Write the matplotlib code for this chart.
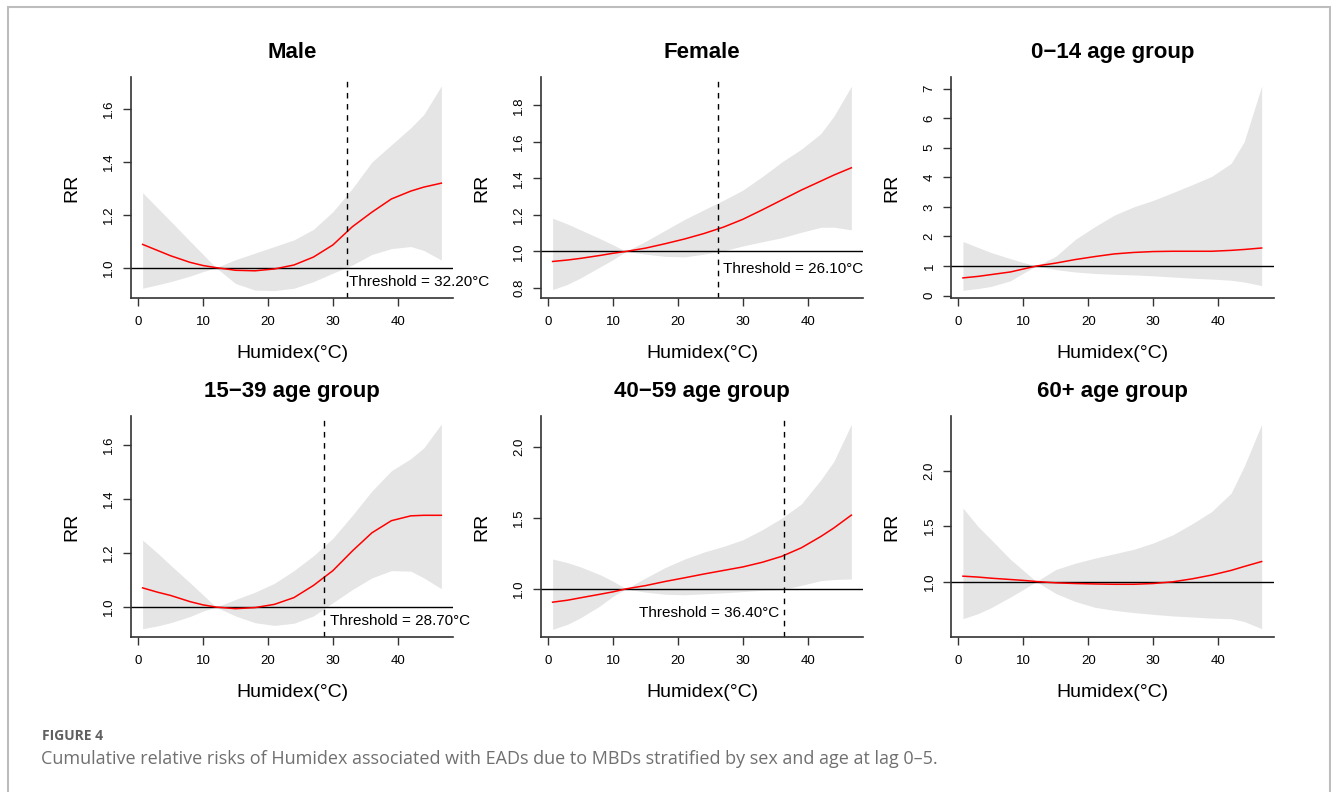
import matplotlib
matplotlib.use("Agg")
import matplotlib.pyplot as plt
from matplotlib.patches import Rectangle

plt.rcParams['font.family'] = ['Liberation Sans', 'DejaVu Sans']

###################################################################################################
# Data (Humidex grid shared by every panel)
###################################################################################################
humidex = [0.7, 3, 5, 8, 10, 12, 15, 18, 21, 24, 27, 30, 33, 36, 39, 42, 44, 46.7]

titles = ['Male', 'Female', '0\u221214 age group',
          '15\u221239 age group', '40\u221259 age group', '60+ age group']

male_rr = [1.088, 1.065, 1.045, 1.02, 1.008, 1.0, 0.99, 0.988, 0.995, 1.01, 1.04, 1.086,
           1.155, 1.21, 1.26, 1.29, 1.305, 1.32]
male_hi = [1.284, 1.226, 1.176, 1.10, 1.05, 1.0, 1.03, 1.055, 1.08, 1.105, 1.145, 1.212,
           1.30, 1.40, 1.465, 1.53, 1.58, 1.688]
male_lo = [0.922, 0.935, 0.947, 0.968, 0.985, 1.0, 0.94, 0.915, 0.913, 0.922, 0.947, 0.979,
           1.01, 1.05, 1.072, 1.08, 1.065, 1.029]

female_rr = [0.945, 0.953, 0.962, 0.978, 0.99, 1.0, 1.018, 1.042, 1.068, 1.098, 1.133, 1.176,
             1.228, 1.282, 1.336, 1.385, 1.418, 1.458]
female_hi = [1.182, 1.15, 1.118, 1.07, 1.036, 1.0, 1.055, 1.115, 1.175, 1.228, 1.28, 1.336,
             1.41, 1.49, 1.56, 1.645, 1.74, 1.904]
female_lo = [0.791, 0.82, 0.855, 0.915, 0.955, 1.0, 0.985, 0.973, 0.97, 0.985, 1.003, 1.03,
             1.053, 1.075, 1.105, 1.132, 1.133, 1.118]

age0_rr = [0.6, 0.65, 0.71, 0.8, 0.9, 1.0, 1.1, 1.22, 1.32, 1.41, 1.46, 1.49,
           1.5, 1.5, 1.5, 1.53, 1.56, 1.61]
age0_hi = [1.83, 1.63, 1.46, 1.25, 1.12, 1.0, 1.33, 1.9, 2.33, 2.72, 3.0, 3.22,
           3.48, 3.75, 4.03, 4.47, 5.2, 7.08]
age0_lo = [0.18, 0.24, 0.31, 0.5, 0.76, 1.0, 0.88, 0.8, 0.75, 0.72, 0.7, 0.67,
           0.63, 0.59, 0.56, 0.52, 0.46, 0.34]

age15_rr = [1.071, 1.055, 1.043, 1.02, 1.008, 1.0, 0.994, 0.998, 1.01, 1.035, 1.08, 1.135,
            1.208, 1.275, 1.32, 1.338, 1.34, 1.34]
age15_hi = [1.248, 1.2, 1.155, 1.09, 1.045, 1.0, 1.028, 1.055, 1.088, 1.135, 1.19, 1.255,
            1.34, 1.43, 1.505, 1.55, 1.59, 1.678]
age15_lo = [0.92, 0.93, 0.942, 0.965, 0.985, 1.0, 0.967, 0.942, 0.932, 0.94, 0.967, 1.016,
            1.065, 1.108, 1.135, 1.133, 1.108, 1.068]

age40_rr = [0.906, 0.92, 0.937, 0.962, 0.979, 1.0, 1.023, 1.052, 1.078, 1.105, 1.13, 1.155,
            1.188, 1.23, 1.29, 1.37, 1.43, 1.521]
age40_hi = [1.211, 1.185, 1.155, 1.1, 1.054, 1.0, 1.077, 1.15, 1.21, 1.26, 1.3, 1.347,
            1.418, 1.5, 1.6, 1.77, 1.9, 2.162]
age40_lo = [0.714, 0.75, 0.796, 0.88, 0.948, 1.0, 0.977, 0.962, 0.958, 0.965, 0.972, 0.981,
            0.99, 0.995, 1.025, 1.058, 1.066, 1.07]

age60_rr = [1.048, 1.04, 1.03, 1.018, 1.01, 1.0, 0.988, 0.982, 0.978, 0.975, 0.975, 0.982,
            0.997, 1.024, 1.058, 1.1, 1.135, 1.18]
age60_hi = [1.662, 1.497, 1.38, 1.2, 1.1, 1.0, 1.108, 1.165, 1.21, 1.25, 1.29, 1.347,
            1.42, 1.52, 1.63, 1.796, 2.036, 2.416]
age60_lo = [0.665, 0.71, 0.763, 0.86, 0.928, 1.0, 0.892, 0.82, 0.768, 0.74, 0.72, 0.704,
            0.69, 0.68, 0.67, 0.665, 0.64, 0.575]

thresholds = [32.2, 26.1, None, 28.7, 36.4, None]

y_ticks = [[1.0, 1.2, 1.4, 1.6], [0.8, 1.0, 1.2, 1.4, 1.6, 1.8], [0, 1, 2, 3, 4, 5, 6, 7],
           [1.0, 1.2, 1.4, 1.6], [1.0, 1.5, 2.0], [1.0, 1.5, 2.0]]
y_limits = [(0.885, 1.722), (0.745, 1.955), (-0.08, 7.39),
            (0.889, 1.708), (0.66, 2.221), (0.5, 2.491)]
x_ticks = [0, 10, 20, 30, 40]

series = [(male_rr, male_lo, male_hi), (female_rr, female_lo, female_hi),
          (age0_rr, age0_lo, age0_hi), (age15_rr, age15_lo, age15_hi),
          (age40_rr, age40_lo, age40_hi), (age60_rr, age60_lo, age60_hi)]

# threshold label placement: (x offset from line, y value, alignment)
label_place = [(0.3, 0.947, 'left'), (0.85, 0.905, 'left'), None,
               (0.85, 0.948, 'left'), (-0.8, 0.831, 'right'), None]

###################################################################################################
# Figure
###################################################################################################
W, H = 1331, 792
fig = plt.figure(figsize=(W / 100, H / 100), dpi=100)

# page frame
fig.add_artist(Rectangle((8 / W, -0.05), 1322 / W, 1.05 - 7 / H, transform=fig.transFigure,
                         fill=False, edgecolor='#bdbdbd', linewidth=1.5))

lefts = [130.7, 540.7, 951.0]
tops = [77.0, 416.0]
ax_w, ax_h = 322.6, 221.0
axis_col = '#333333'

for i, (rr, lo, hi) in enumerate(series):
    row, col = divmod(i, 3)
    ax = fig.add_axes([lefts[col] / W, 1 - (tops[row] + ax_h) / H, ax_w / W, ax_h / H])

    ax.fill_between(humidex, lo, hi, color='#e5e5e5', linewidth=0)
    ax.axhline(1.0, color='black', linewidth=1.0)
    ax.plot(humidex, rr, color='red', linewidth=1.1)

    if thresholds[i] is not None:
        ax.axvline(thresholds[i], color='black', linewidth=1.0, linestyle=(0, (4, 4)))
        dx, ty, ha = label_place[i]
        ax.text(thresholds[i] + dx, ty, 'Threshold = %.2f\u00b0C' % thresholds[i],
                ha=ha, va='center', fontsize=11, clip_on=False)

    ax.set_xlim(-1.14, 48.54)
    ax.set_ylim(*y_limits[i])
    ax.set_xticks(x_ticks)
    ax.set_yticks(y_ticks[i])
    if i == 2:
        ax.set_yticklabels([str(t) for t in y_ticks[i]])
    else:
        ax.set_yticklabels(['%.1f' % t for t in y_ticks[i]])
    for lab in ax.get_yticklabels():
        lab.set_rotation(90)
        lab.set_va('center')

    for side in ['top', 'right']:
        ax.spines[side].set_visible(False)
    for side in ['left', 'bottom']:
        ax.spines[side].set_color(axis_col)
        ax.spines[side].set_linewidth(1.2)
    ax.tick_params(axis='both', length=6, width=1.0, color=axis_col, labelsize=9.5)
    ax.tick_params(axis='x', pad=7)
    ax.tick_params(axis='y', pad=5)

    ax.text(0.5, 1.11, titles[i], transform=ax.transAxes, ha='center', va='center',
            fontsize=16, fontweight='bold')
    ax.text(0.5, -0.249, 'Humidex(\u00b0C)', transform=ax.transAxes, ha='center',
            va='center', fontsize=14)
    ax.text(-0.183, 0.5, 'RR', transform=ax.transAxes, ha='center', va='center',
            rotation=90, fontsize=14)

# caption
fig.text(42 / W, 1 - 736 / H, 'FIGURE 4', fontsize=10, color='#606060', va='center',
         family=['Open Sans', 'DejaVu Sans'], fontweight='bold')
fig.text(41 / W, 1 - 759 / H,
         'Cumulative relative risks of Humidex associated with EADs due to MBDs stratified '
         'by sex and age at lag 0\u20135.',
         fontsize=13, color='#707070', va='center', family=['Open Sans', 'DejaVu Sans'])

fig.savefig('out.png', dpi=100)
